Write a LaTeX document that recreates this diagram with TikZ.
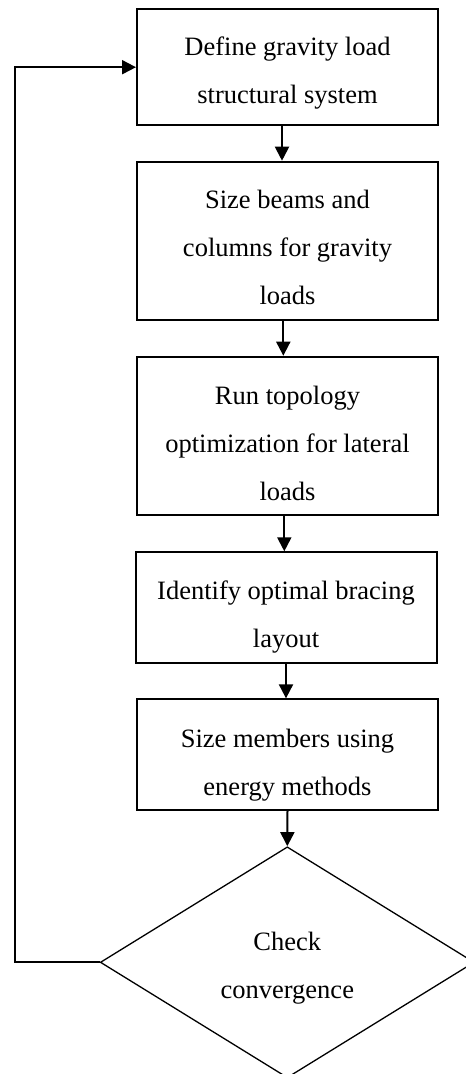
\documentclass[tikz,border=0pt]{standalone}
\usepackage{fontspec}
\setmainfont{Liberation Serif}
\usetikzlibrary{shapes.geometric,arrows.meta}
\begin{document}
\begin{tikzpicture}[x=1pt,y=-1pt,
  txt/.style={font=\fontsize{26.5}{48}\selectfont, align=center, inner sep=0pt},
  stepbox/.style={draw, line width=2pt, minimum width=301pt, inner sep=0pt},
  decision/.style={diamond, draw, line width=1.3pt, minimum width=374pt, minimum height=231pt, aspect=1.62, inner sep=0pt},
  flow/.style={-{Triangle[width=14pt,length=14pt]}, line width=2pt}]
\useasboundingbox (0,0) rectangle (466,1074);
\clip (0,0) rectangle (466,1074);

% process boxes
\node[stepbox, minimum height=116pt] (b1) at (287.5,67.2) {};
\node[stepbox, minimum height=158.6pt] (b2) at (287.5,241) {};
\node[stepbox, minimum height=158.6pt] (b3) at (287.5,436) {};
\node[stepbox, minimum height=110.4pt] (b4) at (286,607.5) {};
\node[stepbox, minimum height=110.7pt] (b5) at (287.5,754.7) {};
\node[decision] (d) at (287.3,962.3) {};

% box texts
\node[txt] (t1) at ([yshift=-6pt]b1.center) {Define gravity load\\structural system};
\node[txt] (t2) at ([yshift=-6pt]b2.center) {Size beams and\\columns for gravity\\loads};
\node[txt] (t3) at ([yshift=-7pt]b3.center) {Run topology\\optimization for lateral\\loads};
\node[txt] (t4) at ([yshift=-10pt]b4.center) {Identify optimal bracing\\layout};
\node[txt] (t5) at ([yshift=-10pt]b5.center) {Size members using\\energy methods};
\node[txt] (dt) at ([yshift=-6pt]d.center) {Check\\convergence};

% flow arrows
\draw[flow] ([xshift=-5.5pt]b1.south) -- ([xshift=-5.5pt]b2.north);
\draw[flow] ([xshift=-4.2pt]b2.south) -- ([xshift=-4.2pt]b3.north);
\draw[flow] ([xshift=-3.2pt]b3.south) -- ([xshift=-1.7pt]b4.north);
\draw[flow] (b4.south) -- ([xshift=-1.5pt]b5.north);
\draw[flow] (b5.south) -- (d.north);

% feedback loop back to the first step
\coordinate (loop) at (15,67.2);
\draw[flow] (d.west) -| (loop) -- (b1.west);
\end{tikzpicture}
\end{document}
